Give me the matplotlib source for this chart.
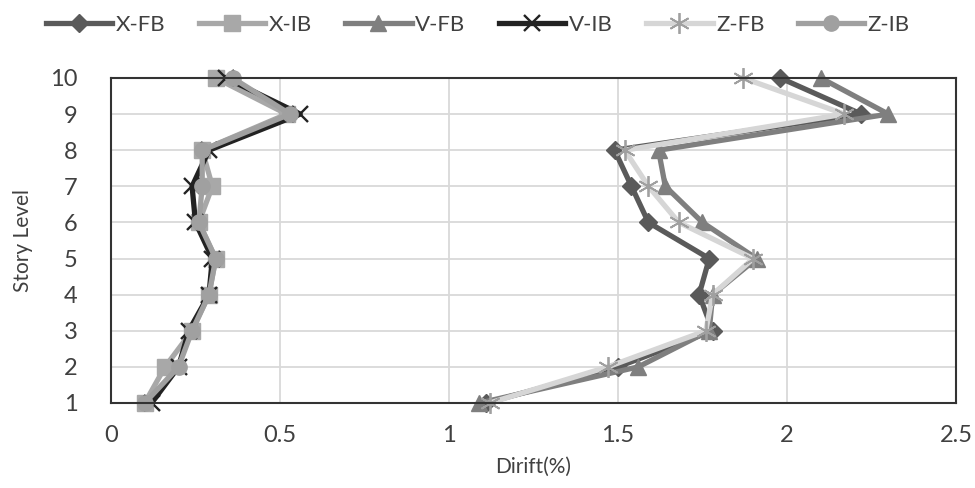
import matplotlib
matplotlib.use('Agg')
import matplotlib.pyplot as plt

plt.rcParams['font.family'] = ['Lato', 'DejaVu Sans']

story = [1, 2, 3, 4, 5, 6, 7, 8, 9, 10]

# drift (%) per story level
x_fb = [1.11, 1.50, 1.78, 1.74, 1.77, 1.59, 1.54, 1.49, 2.22, 1.98]
x_ib = [0.10, 0.16, 0.24, 0.29, 0.31, 0.26, 0.30, 0.27, 0.52, 0.31]
v_fb = [1.09, 1.56, 1.77, 1.78, 1.91, 1.75, 1.64, 1.62, 2.30, 2.10]
v_ib = [0.12, 0.20, 0.23, 0.29, 0.30, 0.25, 0.24, 0.29, 0.56, 0.34]
z_fb = [1.12, 1.47, 1.76, 1.78, 1.90, 1.68, 1.59, 1.52, 2.17, 1.87]
z_ib = [0.10, 0.20, 0.24, 0.29, 0.31, 0.26, 0.27, 0.27, 0.53, 0.36]

x_ticks = [0, 0.5, 1, 1.5, 2, 2.5]

fig = plt.figure(figsize=(9.75, 4.88), dpi=100)
ax = fig.add_axes([0.1138, 0.1742, 0.8667, 0.666])

kw = dict(lw=3.8, clip_on=False)
ax.plot(x_fb, story, color='#5a5a5a', marker='D', ms=9, label='X-FB', **kw)
ax.plot(x_ib, story, color='#a8a8a8', marker='s', ms=11, label='X-IB', **kw)
ax.plot(v_fb, story, color='#7f7f7f', marker='^', ms=12, label='V-FB', **kw)
ax.plot(v_ib, story, color='#222222', marker='x', ms=12, mew=1.7, label='V-IB', **kw)
ax.plot(z_fb, story, color='#d6d6d6', marker=(6, 2, 0), ms=15, mew=1.3,
        mec='#a0a0a0', label='Z-FB', **kw)
ax.plot(z_ib, story, color='#a0a0a0', marker='o', ms=11, label='Z-IB', **kw)

ax.set_xlim(0, 2.5)
ax.set_ylim(1, 10)
ax.set_xticks(x_ticks)
ax.set_xticklabels([str(t) for t in x_ticks])
ax.set_yticks(story)
ax.tick_params(length=0, labelsize=17, colors='#404040')
ax.tick_params(axis='x', pad=16)
ax.tick_params(axis='y', pad=24)
ax.grid(color='#d9d9d9', lw=1.3)
ax.set_axisbelow(True)
for sp in ax.spines.values():
    sp.set_color('#333333')
    sp.set_linewidth(1.5)

ax.set_xlabel('Dirift(%)', fontsize=15, color='#404040', labelpad=8)
ax.set_ylabel('Story Level', fontsize=15, color='#404040', labelpad=12)

fig.legend(loc='upper center', bbox_to_anchor=(0.49, 1.01), ncol=6, frameon=False,
           fontsize=16, handlelength=3.0, columnspacing=1.5, handletextpad=0.15,
           labelcolor='#404040')

plt.savefig('out.png')
